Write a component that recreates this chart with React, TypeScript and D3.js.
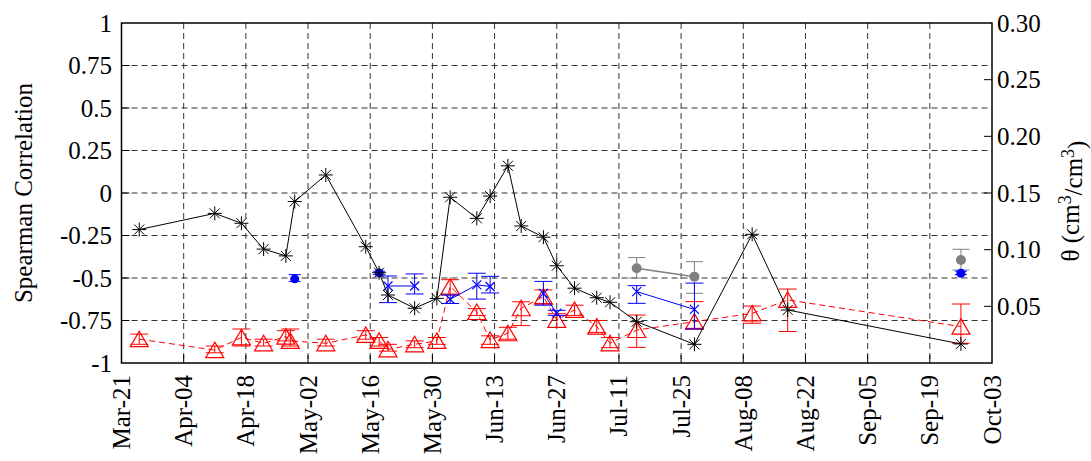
import React from "react";
import * as d3 from "d3";

// ---------- data ----------
const xTickLabels = ["Mar-21", "Apr-04", "Apr-18", "May-02", "May-16", "May-30", "Jun-13", "Jun-27", "Jul-11", "Jul-25", "Aug-08", "Aug-22", "Sep-05", "Sep-19", "Oct-03"];
const yLeftTicks = [-1, -0.75, -0.5, -0.25, 0, 0.25, 0.5, 0.75, 1];
const yLeftLabels = ["-1", "-0.75", "-0.5", "-0.25", "0", "0.25", "0.5", "0.75", "1"];
const yRightTicks = [0.05, 0.1, 0.15, 0.2, 0.25, 0.3];
const yRightLabels = ["0.05", "0.10", "0.15", "0.20", "0.25", "0.30"];

// black series (asterisk, solid)
const blackDates = ["Mar-25", "Apr-11", "Apr-17", "Apr-22", "Apr-27", "Apr-29", "May-06", "May-15", "May-18", "May-20", "May-26", "May-31", "Jun-03", "Jun-09", "Jun-12", "Jun-16", "Jun-19", "Jun-24", "Jun-27", "Jul-01", "Jul-06", "Jul-09", "Jul-15", "Jul-28", "Aug-10", "Aug-18", "Sep-26"];
const blackValues = [-0.215, -0.12, -0.178, -0.33, -0.37, -0.05, 0.106, -0.316, -0.469, -0.6, -0.678, -0.62, -0.025, -0.149, -0.018, 0.16, -0.194, -0.26, -0.428, -0.56, -0.616, -0.643, -0.757, -0.89, -0.243, -0.688, -0.888];

// red series (triangles, dashed, error bars)
const redDates = ["Mar-25", "Apr-11", "Apr-17", "Apr-22", "Apr-27", "Apr-28", "May-06", "May-15", "May-18", "May-20", "May-26", "May-31", "Jun-03", "Jun-09", "Jun-12", "Jun-16", "Jun-19", "Jun-24", "Jun-27", "Jul-01", "Jul-06", "Jul-09", "Jul-15", "Jul-28", "Aug-10", "Aug-18", "Sep-26"];
const redValues = [-0.86, -0.924, -0.849, -0.884, -0.845, -0.87, -0.884, -0.835, -0.87, -0.92, -0.89, -0.87, -0.55, -0.7, -0.865, -0.825, -0.678, -0.61, -0.747, -0.688, -0.786, -0.884, -0.806, -0.757, -0.708, -0.629, -0.786];
const redUpper = [-0.83, -0.9, -0.8, -0.86, -0.81, -0.8, -0.86, -0.81, -0.85, -0.89, -0.87, -0.85, -0.51, -0.68, -0.84, -0.79, -0.64, -0.57, -0.71, -0.66, -0.75, -0.85, -0.718, -0.639, -0.665, -0.565, -0.653];
const redLower = [-0.89, -0.94, -0.9, -0.9, -0.87, -0.9, -0.9, -0.86, -0.9, -0.93, -0.91, -0.89, -0.6, -0.72, -0.89, -0.86, -0.78, -0.65, -0.79, -0.72, -0.82, -0.91, -0.908, -0.796, -0.766, -0.815, -0.884];

// blue series (x markers, solid, error bars); null = gap
const blueDates = ["May-20", "May-26", null, "Jun-03", "Jun-09", "Jun-12", null, "Jun-24", "Jun-27", null, "Jul-15", "Jul-28"];
const blueValues = [-0.547, -0.547, null, -0.625, -0.54, -0.55, null, -0.59, -0.707, null, -0.58, -0.685];
const blueUpper = [-0.488, -0.476, null, -0.6, -0.472, -0.49, null, -0.52, -0.69, null, -0.545, -0.53];
const blueLower = [-0.645, -0.594, null, -0.65, -0.624, -0.588, null, -0.66, -0.72, null, -0.649, -0.8];

// blue filled dots
const blueDotDates = ["Apr-29", "May-18", "Sep-26"];
const blueDotValues = [-0.505, -0.47, -0.472];
const blueDotUpper = [-0.48, -0.46, -0.46];
const blueDotLower = [-0.52, -0.48, -0.48];

// gray filled dots (null = gap)
const grayDates = ["Jul-15", "Jul-28", null, "Sep-26"];
const grayValues = [-0.443, -0.492, null, -0.394];
const grayUpper = [-0.38, -0.404, null, -0.331];
const grayLower = [-0.5, -0.59, null, -0.453];

// ---------- helpers ----------
const parse = d3.utcParse("%b-%d %Y");
const toDate = (s: string) => parse(s + " 2011") as Date;

const W = 1091;
const H = 461;
const L = 121.5, R = 992, T = 23, B = 363;
const FONT = "'Liberation Serif', 'Times New Roman', serif";
const FS = 25;

const x = d3.scaleUtc().domain([toDate(xTickLabels[0]), toDate(xTickLabels[xTickLabels.length - 1])]).range([L, R]);
const yL = d3.scaleLinear().domain([-1, 1]).range([B, T]);
const yR = d3.scaleLinear().domain([0, 0.3]).range([B, T]);

type P = { d: Date; v: number; hi: number; lo: number } | null;
const build = (dates: (string | null)[], vals: (number | null)[], hi?: (number | null)[], lo?: (number | null)[]): P[] =>
  dates.map((s, i) => (s == null ? null : { d: toDate(s), v: vals[i] as number, hi: hi ? (hi[i] as number) : NaN, lo: lo ? (lo[i] as number) : NaN }));

const black = build(blackDates, blackValues);
const red = build(redDates, redValues, redUpper, redLower);
const blue = build(blueDates, blueValues, blueUpper, blueLower);
const blueDots = build(blueDotDates, blueDotValues, blueDotUpper, blueDotLower);
const gray = build(grayDates, grayValues, grayUpper, grayLower);

const lineGen = d3
  .line<P>()
  .defined((p) => p != null)
  .x((p) => x((p as any).d))
  .y((p) => yL((p as any).v));

const asterisk = "M-7,0L7,0M0,-7L0,7M-5,-5L5,5M-5,5L5,-5";
const xMark = "M-4.5,-4.5L4.5,4.5M-4.5,4.5L4.5,-4.5";
const triangle = "M0,-8L9,7.5L-9,7.5Z";

function ErrBars({ pts, color, cap }: { pts: P[]; color: string; cap: number }) {
  return (
    <g stroke={color} strokeWidth={1} fill="none">
      {pts.filter((p) => p != null).map((p, i) => {
        const px = x(p!.d);
        const a = yL(p!.hi), b = yL(p!.lo);
        return (
          <path key={i} d={`M${px},${a}L${px},${b}M${px - cap / 2},${a}L${px + cap / 2},${a}M${px - cap / 2},${b}L${px + cap / 2},${b}`} />
        );
      })}
    </g>
  );
}

export default function App() {
  const xTicks = xTickLabels.map(toDate);
  return (
    <svg width={W} height={H} style={{ position: "absolute", left: 0, top: 0, background: "#fff" }} fontFamily={FONT}>
      <rect x={0} y={0} width={W} height={H} fill="#fff" />
      {/* grid */}
      <g stroke="#333" strokeWidth={1} strokeDasharray="6,4">
        {xTicks.slice(1, -1).map((d, i) => (
          <line key={"gx" + i} x1={x(d)} x2={x(d)} y1={T} y2={B} />
        ))}
        {yLeftTicks.slice(1, -1).map((v, i) => (
          <line key={"gy" + i} x1={L} x2={R} y1={yL(v)} y2={yL(v)} />
        ))}
      </g>

      {/* gray series */}
      <ErrBars pts={gray} color="#808080" cap={17} />
      <path d={lineGen(gray) || ""} fill="none" stroke="#808080" strokeWidth={1.5} />
      {gray.filter((p) => p).map((p, i) => (
        <circle key={"gc" + i} cx={x(p!.d)} cy={yL(p!.v)} r={5} fill="#808080" />
      ))}

      {/* red series */}
      <ErrBars pts={red} color="#ff0000" cap={18} />
      <path d={lineGen(red) || ""} fill="none" stroke="#ff0000" strokeWidth={1} strokeDasharray="6,4" />
      {red.map((p, i) => (
        <path key={"rt" + i} d={triangle} transform={`translate(${x(p!.d)},${yL(p!.v)})`} fill="none" stroke="#ff0000" strokeWidth={1.2} />
      ))}

      {/* blue series */}
      <ErrBars pts={blue} color="#0000ff" cap={18} />
      <path d={lineGen(blue) || ""} fill="none" stroke="#0000ff" strokeWidth={1} />
      {blue.filter((p) => p).map((p, i) => (
        <path key={"bx" + i} d={xMark} transform={`translate(${x(p!.d)},${yL(p!.v)})`} fill="none" stroke="#0000ff" strokeWidth={1.2} />
      ))}
      <ErrBars pts={blueDots} color="#0000ff" cap={12} />
      {blueDots.map((p, i) => (
        <circle key={"bd" + i} cx={x(p!.d)} cy={yL(p!.v)} r={4.5} fill="#0000ff" />
      ))}

      {/* black series */}
      <path d={lineGen(black) || ""} fill="none" stroke="#000" strokeWidth={1} />
      {black.map((p, i) => (
        <path key={"ba" + i} d={asterisk} transform={`translate(${x(p!.d)},${yL(p!.v)})`} fill="none" stroke="#000" strokeWidth={1} />
      ))}

      {/* frame and ticks */}
      <rect x={L} y={T} width={R - L} height={B - T} fill="none" stroke="#000" strokeWidth={1.5} />
      <g stroke="#000" strokeWidth={1}>
        {xTicks.slice(1, -1).map((d, i) => (
          <line key={"tx" + i} x1={x(d)} x2={x(d)} y1={B} y2={B - 8} />
        ))}
        {yLeftTicks.slice(1, -1).map((v, i) => (
          <line key={"ty" + i} x1={L} x2={L + 8} y1={yL(v)} y2={yL(v)} />
        ))}
        {yRightTicks.slice(0, -1).map((v, i) => (
          <line key={"tr" + i} x1={R} x2={R - 8} y1={yR(v)} y2={yR(v)} />
        ))}
      </g>

      {/* tick labels */}
      <g fontSize={FS} fill="#000">
        {yLeftTicks.map((v, i) => (
          <text key={"ly" + i} x={112} y={yL(v)} dy="0.34em" textAnchor="end">
            {yLeftLabels[i]}
          </text>
        ))}
        {yRightTicks.map((v, i) => (
          <text key={"ry" + i} x={997} y={yR(v)} dy="0.34em" textAnchor="start">
            {yRightLabels[i]}
          </text>
        ))}
        {xTicks.map((d, i) => (
          <text key={"lx" + i} transform={`translate(${x(d)},375) rotate(-90)`} dy="0.34em" textAnchor="end">
            {xTickLabels[i]}
          </text>
        ))}
      </g>

      {/* axis titles */}
      <text transform={`translate(32,${(T + B) / 2}) rotate(-90)`} textAnchor="middle" fontSize={FS}>
        Spearman Correlation
      </text>
      <text transform={`translate(1079,201) rotate(-90)`} textAnchor="middle" fontSize={FS}>
        θ (cm<tspan dy="-0.45em" fontSize={FS * 0.72}>3</tspan>
        <tspan dy="0.45em">/cm</tspan>
        <tspan dy="-0.45em" fontSize={FS * 0.72}>3</tspan>
        <tspan dy="0.45em">)</tspan>
      </text>
    </svg>
  );
}
